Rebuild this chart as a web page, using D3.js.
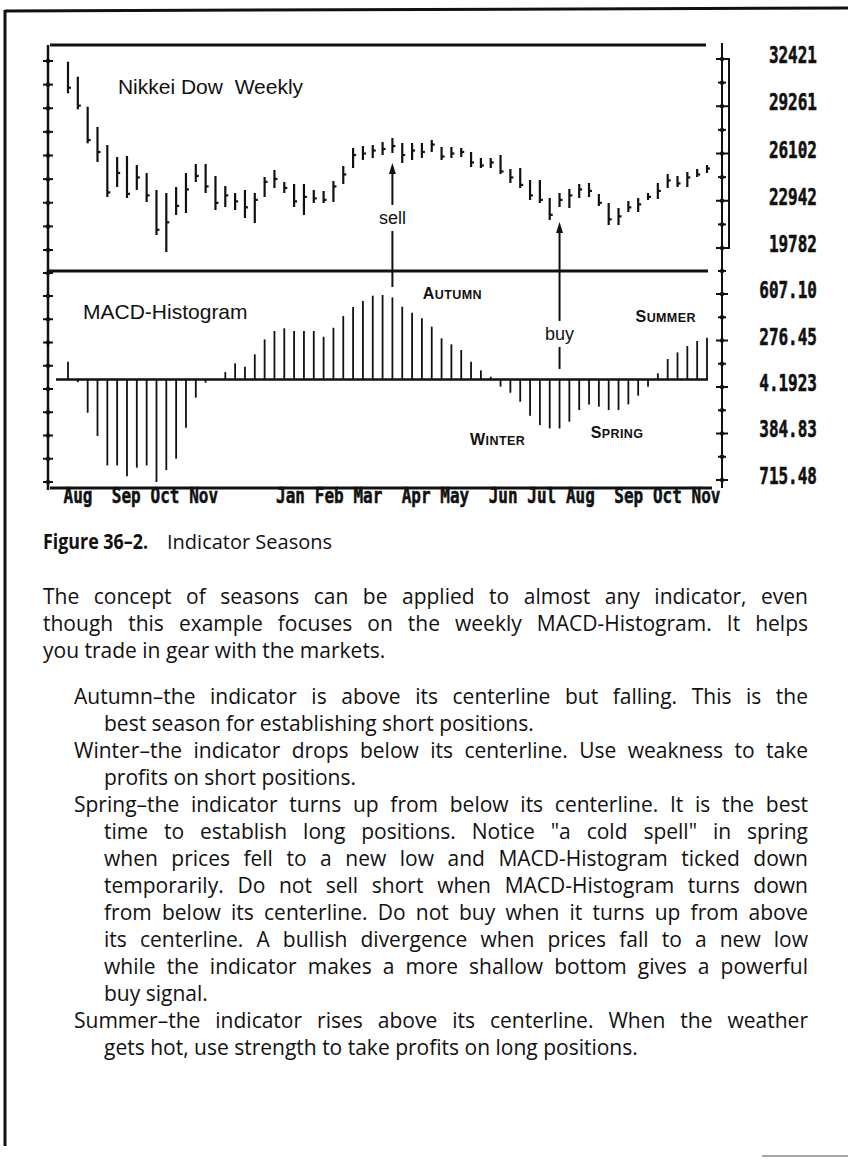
<!DOCTYPE html>
<html><head><meta charset="utf-8">
<script src="https://cdn.jsdelivr.net/npm/d3@7"></script>
<style>body{margin:0;background:#fff}svg{display:block}</style>
</head><body><svg id="c" width="848" height="1160"></svg>
<script>
// ---------- DATA ----------
const highs  = [32240,31237,29231,27873,26670,25867,25934,25332,24797,23660,23460,23861,24797,25399,25399,24597,23928,23460,23660,23460,24530,24998,24195,24062,24062,23660,23594,24262,25265,26469,26603,26670,26870,27138,26803,26803,26803,27004,26536,26536,26469,26202,25800,25800,26001,25065,25132,24329,24329,23126,23460,23727,24062,24129,23393,22791,22457,22925,23126,23460,24129,24730,24597,24864,25065,25332];
const lows   = [30127,29057,26783,25533,23192,23861,23126,23660,22858,20651,19515,21989,22122,24195,23460,22323,22524,22323,21788,21454,23192,23794,23460,22524,21989,22791,22791,22858,24062,25132,25667,25800,26001,26135,25466,25667,25800,26202,25667,25800,25867,25198,25132,25132,24730,24129,23794,22992,22791,21654,22524,22457,23126,23192,22591,21320,21320,22189,22189,22992,23059,23794,23861,23861,24530,24797];
const closes = [30500,29300,27000,26200,23500,24800,23400,24500,23300,21000,21500,22600,23700,24600,23900,22800,23300,22900,22500,23000,24200,24400,23800,22900,23200,23100,23000,23900,24700,26000,26100,26300,26400,26600,26000,26300,26200,26700,25900,26100,26200,25500,25300,25500,24900,24500,24000,23300,23000,22000,23000,23300,23700,23600,22800,21700,21900,22500,22700,23200,23600,24300,24100,24500,24700,25100];
const histogram = [125,-20,-237,-403,-612,-612,-688,-628,-612,-730,-645,-564,-344,-130,-24,0,52,114,90,178,284,344,363,344,344,344,303,367,450,514,557,595,600,583,517,474,434,375,292,249,209,126,64,19,-52,-95,-159,-258,-325,-349,-349,-301,-218,-178,-194,-218,-218,-178,-116,-52,43,145,192,237,273,296];

const monthLabels = ["Aug","Sep","Oct","Nov","Jan","Feb","Mar","Apr","May","Jun","Jul","Aug","Sep","Oct","Nov"];
const monthWeeks  = [0,5,9,13,22,26,30,35,39,44,48,52,57,61,65];

const priceTickValues = [32421,29261.25,26101.5,22941.75,19782];
const priceTickLabels = ["32421","29261","26102","22942","19782"];
const histTickValues  = [607.10,276.45,-54.19,-384.83,-715.48];
const histTickLabels  = ["607.10","276.45","4.1923","384.83","715.48"];

// annotations (week index, values in data units)
const sellSignal = {week:33, tip:25470, textAt:21788, end:657};
const buySignal  = {week:50, tip:21521, textAt:323, end:74};
const seasonLabels = [
  {name:"Autumn", week:39.1, value:572},
  {name:"Summer", week:60.8, value:408},
  {name:"Winter", week:43.7, value:-466},
  {name:"Spring", week:55.85, value:-416}
];

const captionBold = "Figure 36–2.";
const captionText = "Indicator Seasons";
const introLines = [
  "The concept of seasons can be applied to almost any indicator, even",
  "though this example focuses on the weekly MACD-Histogram. It helps",
  "you trade in gear with the markets."
];
const items = [
  ["Autumn–the indicator is above its centerline but falling. This is the",
   "best season for establishing short positions."],
  ["Winter–the indicator drops below its centerline. Use weakness to take",
   "profits on short positions."],
  ["Spring–the indicator turns up from below its centerline. It is the best",
   "time to establish long positions. Notice \"a cold spell\" in spring",
   "when prices fell to a new low and MACD-Histogram ticked down",
   "temporarily. Do not sell short when MACD-Histogram turns down",
   "from below its centerline. Do not buy when it turns up from above",
   "its centerline. A bullish divergence when prices fall to a new low",
   "while the indicator makes a more shallow bottom gives a powerful",
   "buy signal."],
  ["Summer–the indicator rises above its centerline. When the weather",
   "gets hot, use strength to take profits on long positions."]
];

// ---------- LAYOUT ----------
const svg = d3.select("#c");
svg.append("rect").attr("width",848).attr("height",1160).attr("fill","#fff");
const ink = "#111";

const x = d3.scaleLinear().domain([0,65]).range([68,707]);
// month labels sit on a character grid (one character cell per week)
const xLabel = d3.scaleLinear().domain([0,65]).range([77.5,705.5]);
const yP = d3.scaleLinear().domain([19782,32421]).range([248,59]);
const yH = d3.scaleLinear().domain([-715.48,607.10]).range([480,294]);

const axL = 48, axR = 722;
const topY = 45, sepY = 271, botY = 488;

// outer page border
svg.append("line").attr("x1",5).attr("y1",11).attr("x2",848).attr("y2",8).attr("stroke",ink).attr("stroke-width",3);
svg.append("line").attr("x1",5).attr("y1",10).attr("x2",5).attr("y2",1146).attr("stroke",ink).attr("stroke-width",3);
svg.append("line").attr("x1",762).attr("y1",1156).attr("x2",848).attr("y2",1156).attr("stroke","#888").attr("stroke-width",1.5);

// frame lines
const frame = svg.append("g").attr("stroke",ink);
frame.append("line").attr("x1",50).attr("x2",706).attr("y1",topY).attr("y2",topY).attr("stroke-width",3);
frame.append("line").attr("x1",axL).attr("x2",708).attr("y1",sepY).attr("y2",sepY).attr("stroke-width",3);
frame.append("line").attr("x1",50).attr("x2",712).attr("y1",botY).attr("y2",botY).attr("stroke-width",3);
frame.append("line").attr("x1",axL).attr("x2",axL).attr("y1",topY).attr("y2",botY+2).attr("stroke-width",2.5);
frame.append("line").attr("x1",axR).attr("x2",axR).attr("y1",43).attr("y2",botY).attr("stroke-width",2);
// price range bracket on the right axis
frame.append("path").attr("fill","none").attr("stroke-width",2)
  .attr("d",`M${axR},${yP(32421)}H${axR+7}V${yP(19782)}H${axR}`);

// ticks (major + minor) on both axes
function ticksFor(scale, vals){
  const out=[];
  for(let k=0;k<vals.length;k++){
    out.push({y:scale(vals[k]),major:true});
    if(k<vals.length-1) out.push({y:scale((vals[k]+vals[k+1])/2),major:false});
  }
  return out;
}
const allTicks = ticksFor(yP,priceTickValues).concat(ticksFor(yH,histTickValues)).concat([{y:sepY,major:false}]);
const tg = svg.append("g").attr("stroke",ink);
tg.selectAll(".tl").data(allTicks).join("line")
  .attr("x1",axL-5).attr("x2",axL+5).attr("y1",d=>d.y+2).attr("y2",d=>d.y+2).attr("stroke-width",2);
tg.selectAll(".tld").data(allTicks).join("circle").attr("fill",ink).attr("stroke","none")
  .attr("cx",axL).attr("cy",d=>d.y+2).attr("r",2.2);
tg.selectAll(".tr").data(allTicks).join("line")
  .attr("x1",d=>axR-(d.major?6:4)).attr("x2",d=>axR+(d.major?6:4)).attr("y1",d=>d.y).attr("y2",d=>d.y).attr("stroke-width",2);
tg.selectAll(".trd").data(allTicks).join("circle").attr("fill",ink).attr("stroke","none")
  .attr("cx",axR).attr("cy",d=>d.y).attr("r",2.2);

// right axis labels via d3 axes
const monoFont = "'DejaVu Sans Mono', monospace";
function styleAxisLabels(g){
  g.select(".domain").remove();
  g.selectAll(".tick line").remove();
  g.selectAll(".tick text")
    .attr("x",0).attr("dy",null).attr("y",0)
    .attr("text-anchor","end")
    .attr("font-family",monoFont).attr("font-weight","bold").attr("font-size",16)
    .attr("fill",ink).attr("stroke",ink).attr("stroke-width",0.4)
    .attr("transform","translate(0,8) scale(1,1.45)");
}
svg.append("g").attr("transform","translate(817,0)")
  .call(d3.axisRight(yP).tickValues(priceTickValues).tickFormat((d,i)=>priceTickLabels[i]).tickSize(0))
  .call(styleAxisLabels)
  .selectAll(".tick").attr("transform",(d,i)=>`translate(0,${yP(d)-4})`);
svg.append("g").attr("transform","translate(817,0)")
  .call(d3.axisRight(yH).tickValues(histTickValues).tickFormat((d,i)=>histTickLabels[i]).tickSize(0))
  .call(styleAxisLabels)
  .selectAll(".tick").attr("transform",(d,i)=>`translate(0,${yH(d)-4})`);

// month labels via d3 bottom axis
const xm = svg.append("g").attr("transform",`translate(0,${botY})`)
  .call(d3.axisBottom(xLabel).tickValues(monthWeeks).tickFormat((d,i)=>monthLabels[i]).tickSize(0));
xm.select(".domain").remove();
xm.selectAll(".tick text").attr("y",0).attr("dy",null)
  .attr("font-family",monoFont).attr("font-weight","bold").attr("font-size",16).attr("fill",ink)
  .attr("stroke",ink).attr("stroke-width",0.4)
  .attr("text-anchor","middle").attr("transform","translate(0,15) scale(1,1.3)");

// price bars (high-low with close tick)
const pb = svg.append("g").attr("stroke",ink).attr("stroke-width",2.2);
pb.selectAll(".hl").data(highs).join("line")
  .attr("x1",(d,i)=>x(i)).attr("x2",(d,i)=>x(i))
  .attr("y1",d=>yP(d)).attr("y2",(d,i)=>yP(lows[i]));
pb.selectAll(".cl").data(closes).join("line")
  .attr("x1",(d,i)=>x(i)).attr("x2",(d,i)=>x(i)+3)
  .attr("y1",d=>yP(d)).attr("y2",d=>yP(d));

// zero line
svg.append("line").attr("x1",56).attr("x2",708).attr("y1",yH(0)).attr("y2",yH(0)).attr("stroke",ink).attr("stroke-width",2.5);
// histogram bars
svg.append("g").attr("stroke",ink).attr("stroke-width",1.8)
  .selectAll("line").data(histogram).join("line")
  .attr("x1",(d,i)=>x(i)).attr("x2",(d,i)=>x(i))
  .attr("y1",yH(0)).attr("y2",d=>yH(d));

// panel titles
const sans = "'Liberation Sans', Arial, sans-serif";
svg.append("text").attr("x",x(5.08)).attr("y",yP(30080)).attr("font-family",sans).attr("font-size",21).attr("fill",ink)
  .attr("xml:space","preserve").text("Nikkei Dow  Weekly");
svg.append("text").attr("x",x(1.53)).attr("y",yH(430)).attr("font-family",sans).attr("font-size",21).attr("fill",ink)
  .text("MACD-Histogram");

// season labels (small caps)
seasonLabels.forEach(s=>{
  const t = svg.append("text").attr("x",x(s.week)).attr("y",yH(s.value)).attr("text-anchor","middle")
    .attr("font-family",sans).attr("font-weight","bold").attr("fill",ink).attr("letter-spacing",0.4);
  t.append("tspan").attr("font-size",16).text(s.name[0].toUpperCase());
  t.append("tspan").attr("font-size",12.5).text(s.name.slice(1).toUpperCase());
});

// signal arrows
function signal(sig, tipY, textY, endY, label){
  const cx = x(sig.week);
  svg.append("line").attr("x1",cx).attr("x2",cx).attr("y1",tipY+6).attr("y2",endY).attr("stroke",ink).attr("stroke-width",2);
  svg.append("path").attr("fill",ink).attr("d",`M${cx},${tipY}L${cx-3.5},${tipY+11}L${cx+3.5},${tipY+11}Z`);
  svg.append("rect").attr("x",cx-17).attr("y",textY-13).attr("width",34).attr("height",26).attr("fill","#fff");
  svg.append("text").attr("x",cx).attr("y",textY+6).attr("text-anchor","middle").attr("font-family",sans)
    .attr("font-size",18).attr("fill",ink).text(label);
}
signal(sellSignal, yP(sellSignal.tip), yP(sellSignal.textAt), yH(sellSignal.end), "sell");
signal(buySignal, yP(buySignal.tip), yH(buySignal.textAt), yH(buySignal.end), "buy");

// ---------- CAPTION & BODY TEXT ----------
const bodyFont = "'Open Sans', 'Noto Sans', sans-serif";
const bodySize = 21;
const rightEdge = 808;
svg.append("text").attr("x",43).attr("y",549).attr("font-family",bodyFont).attr("font-size",21)
  .attr("font-weight","bold").attr("fill",ink)
  .attr("textLength",105).attr("lengthAdjust","spacingAndGlyphs").text(captionBold);
svg.append("text").attr("x",167).attr("y",549).attr("font-family",bodyFont).attr("font-size",20).attr("fill",ink).text(captionText);

function line(txt, x0, y, justify){
  const t = svg.append("text").attr("x",x0).attr("y",y).attr("font-family",bodyFont).attr("font-size",bodySize).attr("fill",ink).text(txt);
  if(justify){
    const len = t.node().getComputedTextLength();
    const n = (txt.match(/ /g)||[]).length;
    if(n) t.attr("word-spacing",(rightEdge-x0-len)/n);
  }
  return t;
}
let yy = 604;
introLines.forEach((l,k)=>{ line(l,43,yy,k<introLines.length-1); yy+=27; });
yy = 704;
items.forEach(it=>{
  it.forEach((l,k)=>{ line(l, k===0?74:104, yy, k<it.length-1); yy+=27; });
});
</script></body></html>
